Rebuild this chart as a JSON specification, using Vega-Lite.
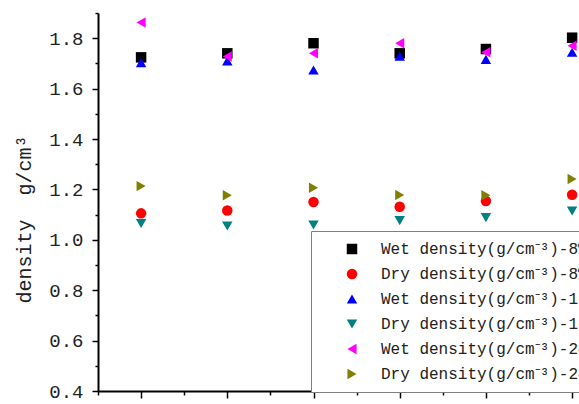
{
  "$schema": "https://vega.github.io/schema/vega-lite/v6.json",
  "width": 481,
  "height": 378,
  "autosize": {"type": "none"},
  "padding": {"left": 98, "top": 13, "right": 0, "bottom": 13},
  "background": "white",
  "config": {
    "view": {"stroke": null},
    "axis": {"grid": false, "domainColor": "#000", "domainWidth": 2, "tickColor": "#000", "tickWidth": 1.5, "labelFont": "Liberation Mono", "titleFont": "Liberation Mono", "labelColor": "#222", "titleColor": "#222", "titleFontWeight": "normal"},
    "legend": {"labelFont": "Liberation Mono"}
  },
  "data": {"values": [
    {"g": 1, "s": "Wet density(g/cm⁻³)-8%", "v": 1.724},
    {"g": 2, "s": "Wet density(g/cm⁻³)-8%", "v": 1.740},
    {"g": 3, "s": "Wet density(g/cm⁻³)-8%", "v": 1.780},
    {"g": 4, "s": "Wet density(g/cm⁻³)-8%", "v": 1.740},
    {"g": 5, "s": "Wet density(g/cm⁻³)-8%", "v": 1.757},
    {"g": 6, "s": "Wet density(g/cm⁻³)-8%", "v": 1.802},
    {"g": 1, "s": "Dry density(g/cm⁻³)-8%", "v": 1.105},
    {"g": 2, "s": "Dry density(g/cm⁻³)-8%", "v": 1.116},
    {"g": 3, "s": "Dry density(g/cm⁻³)-8%", "v": 1.150},
    {"g": 4, "s": "Dry density(g/cm⁻³)-8%", "v": 1.131},
    {"g": 5, "s": "Dry density(g/cm⁻³)-8%", "v": 1.154},
    {"g": 6, "s": "Dry density(g/cm⁻³)-8%", "v": 1.179},
    {"g": 1, "s": "Wet density(g/cm⁻³)-16%", "v": 1.703},
    {"g": 2, "s": "Wet density(g/cm⁻³)-16%", "v": 1.710},
    {"g": 3, "s": "Wet density(g/cm⁻³)-16%", "v": 1.674},
    {"g": 4, "s": "Wet density(g/cm⁻³)-16%", "v": 1.729},
    {"g": 5, "s": "Wet density(g/cm⁻³)-16%", "v": 1.716},
    {"g": 6, "s": "Wet density(g/cm⁻³)-16%", "v": 1.744},
    {"g": 1, "s": "Dry density(g/cm⁻³)-16%", "v": 1.065},
    {"g": 2, "s": "Dry density(g/cm⁻³)-16%", "v": 1.055},
    {"g": 3, "s": "Dry density(g/cm⁻³)-16%", "v": 1.059},
    {"g": 4, "s": "Dry density(g/cm⁻³)-16%", "v": 1.076},
    {"g": 5, "s": "Dry density(g/cm⁻³)-16%", "v": 1.088},
    {"g": 6, "s": "Dry density(g/cm⁻³)-16%", "v": 1.114},
    {"g": 1, "s": "Wet density(g/cm⁻³)-24%", "v": 1.862},
    {"g": 2, "s": "Wet density(g/cm⁻³)-24%", "v": 1.727},
    {"g": 3, "s": "Wet density(g/cm⁻³)-24%", "v": 1.740},
    {"g": 4, "s": "Wet density(g/cm⁻³)-24%", "v": 1.780},
    {"g": 5, "s": "Wet density(g/cm⁻³)-24%", "v": 1.744},
    {"g": 6, "s": "Wet density(g/cm⁻³)-24%", "v": 1.770},
    {"g": 1, "s": "Dry density(g/cm⁻³)-24%", "v": 1.213},
    {"g": 2, "s": "Dry density(g/cm⁻³)-24%", "v": 1.177},
    {"g": 3, "s": "Dry density(g/cm⁻³)-24%", "v": 1.207},
    {"g": 4, "s": "Dry density(g/cm⁻³)-24%", "v": 1.178},
    {"g": 5, "s": "Dry density(g/cm⁻³)-24%", "v": 1.177},
    {"g": 6, "s": "Dry density(g/cm⁻³)-24%", "v": 1.241}
  ]},
  "mark": {"type": "point", "filled": true, "opacity": 1, "size": 110},
  "encoding": {
    "x": {
      "field": "g", "type": "quantitative",
      "scale": {"domain": [0.5, 6.08], "nice": false, "zero": false},
      "axis": {
        "title": null, "labels": false,
        "values": [0.5, 1, 1.5, 2, 2.5, 3, 3.5, 4, 4.5, 5, 5.5, 6],
        "tickSize": {"condition": {"test": "datum.value % 1 === 0", "value": 7}, "value": 4}
      }
    },
    "y": {
      "field": "v", "type": "quantitative",
      "scale": {"domain": [0.4, 1.9], "nice": false, "zero": false},
      "axis": {
        "title": "density\u00a0 g/cm³",
        "titleFontSize": 20,
        "titleX": -64, "titleY": 206, "titleAngle": -90, "titleAlign": "center", "titleBaseline": "bottom",
        "values": [0.4, 0.5, 0.6, 0.7, 0.8, 0.9, 1.0, 1.1, 1.2, 1.3, 1.4, 1.5, 1.6, 1.7, 1.8, 1.9],
        "labelExpr": "round(datum.value*10) % 2 == 0 ? format(datum.value, '.1f') : ''",
        "labelFontSize": 19,
        "labelOverlap": false,
        "labelPadding": 9,
        "tickSize": {"condition": {"test": "round(datum.value*10) % 2 == 0", "value": 6}, "value": 3}
      }
    },
    "color": {
      "field": "s", "type": "nominal",
      "scale": {
        "domain": ["Wet density(g/cm⁻³)-8%", "Dry density(g/cm⁻³)-8%", "Wet density(g/cm⁻³)-16%", "Dry density(g/cm⁻³)-16%", "Wet density(g/cm⁻³)-24%", "Dry density(g/cm⁻³)-24%"],
        "range": ["#000000", "#ff0000", "#0000ff", "#008080", "#ff00ff", "#808000"]
      },
      "legend": {
        "title": null, "orient": "none", "legendX": 213, "legendY": 218,
        "strokeColor": "#808080", "fillColor": "white", "padding": 10,
        "symbolOffset": 23, "labelOffset": 21, "labelFontSize": 16, "labelColor": "#222",
        "rowPadding": 9, "symbolSize": 110, "labelLimit": 0
      }
    },
    "shape": {
      "field": "s", "type": "nominal",
      "scale": {
        "domain": ["Wet density(g/cm⁻³)-8%", "Dry density(g/cm⁻³)-8%", "Wet density(g/cm⁻³)-16%", "Dry density(g/cm⁻³)-16%", "Wet density(g/cm⁻³)-24%", "Dry density(g/cm⁻³)-24%"],
        "range": ["square", "circle", "triangle-up", "triangle-down", "triangle-left", "triangle-right"]
      },
      "legend": {
        "title": null, "orient": "none", "legendX": 213, "legendY": 218,
        "strokeColor": "#808080", "fillColor": "white", "padding": 10,
        "symbolOffset": 23, "labelOffset": 21, "labelFontSize": 16, "labelColor": "#222",
        "rowPadding": 9, "symbolSize": 110, "labelLimit": 0
      }
    }
  }
}
